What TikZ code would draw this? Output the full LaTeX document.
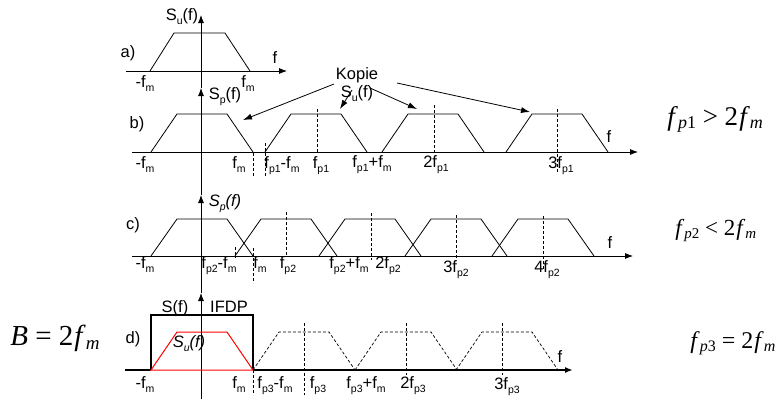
\documentclass[tikz,border=0pt]{standalone}
\usepackage{fontspec}
\setmainfont{Liberation Sans}
\newfontfamily\tnr{Liberation Serif}
\usetikzlibrary{arrows.meta}
\newcommand\sbs[1]{\raisebox{-0.28em}{\fontsize{10.5}{11}\selectfont #1}}
\newcommand\fs[1]{f\sbs{#1}}
\newcommand\trp[4]{\draw[#4] ({#1-51},#2) -- ({#1-25},#3) -- ({#1+25},#3) -- ({#1+51},#2);}
\begin{document}
\begin{tikzpicture}[x=1pt,y=-1pt,line width=0.8pt,
  lbl/.style={anchor=base,inner sep=0pt,font=\fontsize{16.5}{18}\selectfont},
  axisarrow/.style={-{Latex[length=8pt,width=6pt]}},
  kopiearrow/.style={-{Latex[length=9pt,width=6pt]}},
  dsh/.style={dash pattern=on 3pt off 2pt,line width=0.7pt},
  formula/.style={anchor=base west,inner sep=0pt}]
\useasboundingbox (0,0) rectangle (775,399);
% vertical axis
\coordinate (v0) at (201,399);
\coordinate (v1) at (201,293);
\coordinate (v2) at (201,195);
\coordinate (v3) at (201,88);
\coordinate (v4) at (201,15);
\draw[axisarrow] (v0) -- (v1);
\draw[axisarrow] (v1) -- (v2);
\draw[axisarrow] (v2) -- (v3);
\draw[axisarrow] (v3) -- (v4);
% ---------- a)
\coordinate (a0) at (126,71); \coordinate (a1) at (287,71);
\draw[axisarrow] (a0) -- (a1);
\draw (150,71) -- (174,33) -- (225,33) -- (250,71);
\node[lbl] (aS) at (182,20) {S\sbs{u}(f)};
\node[lbl] (aa) at (128,57) {a)};
\node[lbl] (af) at (275,63) {f};
\node[lbl] (afm1) at (145,87) {-\fs{m}};
\node[lbl] (afm2) at (248,87) {\fs{m}};
% ---------- b)
\coordinate (b0) at (132,152); \coordinate (b1) at (638,152);
\draw[axisarrow] (b0) -- (b1);
\trp{202}{152}{114}{}
\trp{316}{152}{114}{}
\trp{433}{152}{114}{}
\trp{557}{152}{114}{}
\draw[dsh] (253,153) -- (253,177);
\draw[dsh] (265,143) -- (265,177);
\draw[dsh] (317,109) -- (317,153);
\draw[dsh] (434,105) -- (434,153);
\draw[dsh] (557,109) -- (557,173);
\node[lbl] (bS) at (225,99) {S\sbs{p}(f)};
\node[lbl] (bb) at (137,128) {b)};
\node[lbl] (bf) at (609,142) {f};
\node[lbl] (bl1) at (145,168) {-\fs{m}};
\node[lbl] (bl2) at (239,168) {\fs{m}};
\node[lbl] (bl3) at (282,168) {\fs{p1}-\fs{m}};
\node[lbl] (bl4) at (321,168) {\fs{p1}};
\node[lbl] (bl5) at (372,167) {\fs{p1}+\fs{m}};
\node[lbl] (bl6) at (436,167) {2\fs{p1}};
\node[lbl] (bl7) at (561,168) {3\fs{p1}};
\node[lbl] (kop) at (357,79) {Kopie};
\node[lbl] (kopS) at (357,97) {S\sbs{u}(f)};
\coordinate (k1s) at (334,84); \coordinate (k1e) at (243,120);
\coordinate (k2s) at (352,90); \coordinate (k2e) at (340,109);
\coordinate (k3s) at (370,88); \coordinate (k3e) at (417,109);
\coordinate (k4s) at (397,83); \coordinate (k4e) at (530,112);
\draw[kopiearrow] (k1s) -- (k1e);
\draw[kopiearrow] (k2s) -- (k2e);
\draw[kopiearrow] (k3s) -- (k3e);
\draw[kopiearrow] (k4s) -- (k4e);
% ---------- c)
\coordinate (c0) at (132,256); \coordinate (c1) at (633,256);
\draw[axisarrow] (c0) -- (c1);
\trp{202}{256}{219}{}
\trp{286}{256}{219}{}
\trp{370}{256}{219}{}
\trp{456}{256}{219}{}
\trp{543}{256}{219}{}
\draw[dsh] (235,247) -- (235,258);
\draw[dsh] (253,248) -- (253,283);
\draw[dsh] (286,212) -- (286,256);
\draw[dsh] (371,213) -- (371,260);
\draw[dsh] (456,215) -- (456,258);
\draw[dsh] (543,216) -- (543,270);
\node[lbl] (cS) at (225,206) {\itshape S\sbs{p}(f)};
\node[lbl] (cc) at (133,229) {c)};
\node[lbl] (cf) at (610,248) {f};
\node[lbl] (cl1) at (145,268) {-\fs{m}};
\node[lbl] (cl2) at (219,268) {\fs{p2}-\fs{m}};
\node[lbl] (cl3) at (260,268) {\fs{m}};
\node[lbl] (cl4) at (288,268) {\fs{p2}};
\node[lbl] (cl5) at (349,268) {\fs{p2}+\fs{m}};
\node[lbl] (cl6) at (388,268) {2\fs{p2}};
\node[lbl] (cl7) at (456,272) {3\fs{p2}};
\node[lbl] (cl8) at (547,272) {4\fs{p2}};
% ---------- d)
\coordinate (d0) at (125,370); \coordinate (d0b) at (151,370);
\coordinate (d1b) at (253,370); \coordinate (d1) at (573,370);
\draw[line width=1.6pt] (d0) -- (d0b);
\draw[line width=1.6pt,axisarrow] (d1b) -- (d1);
\draw[line width=1.6pt] (151,370) -- (151,315) -- (253,315) -- (253,370);
\draw[red,line width=1pt] (151,370) -- (177,332) -- (227,332) -- (253,370) -- cycle;
\trp{304}{370}{332}{dsh}
\trp{406}{370}{332}{dsh}
\trp{507}{370}{332}{dsh}
\draw[dsh] (253,370) -- (253,395);
\draw[dsh] (304,323) -- (304,395);
\draw[dsh] (406,323) -- (406,375);
\draw[dsh] (502,323) -- (502,375);
\node[lbl] (dd) at (133,343) {d)};
\node[lbl] (dS) at (175,312) {S(f)};
\node[lbl] (dI) at (229,312) {IFDP};
\node[lbl] (dSu) at (189,347) {\itshape S\sbs{u}(f)};
\node[lbl] (df) at (560,362) {f};
\node[lbl] (dl1) at (145,388) {-\fs{m}};
\node[lbl] (dl2) at (239,388) {\fs{m}};
\node[lbl] (dl3) at (275,388) {\fs{p3}-\fs{m}};
\node[lbl] (dl4) at (318,388) {\fs{p3}};
\node[lbl] (dl5) at (366,388) {\fs{p3}+\fs{m}};
\node[lbl] (dl6) at (413,388) {2\fs{p3}};
\node[lbl] (dl7) at (507,389) {3\fs{p3}};
% ---------- formulas
\node[formula] (F1) at (667,125) {\fontsize{27}{30}\selectfont\tnr\textit{f}\raisebox{-0.3ex}{\fontsize{18}{20}\selectfont\textit{p}1} {>} 2\kern1pt\textit{f}\raisebox{-0.3ex}{\fontsize{18}{20}\selectfont\textit{m}}};
\node[formula] (F2) at (675,235) {\fontsize{23}{26}\selectfont\tnr\textit{f}\raisebox{-0.3ex}{\fontsize{15}{17}\selectfont\textit{p}2} {<} 2\kern1pt\textit{f}\raisebox{-0.3ex}{\fontsize{15}{17}\selectfont\textit{m}}};
\node[formula] (F3) at (690,348) {\fontsize{24}{27}\selectfont\tnr\textit{f}\raisebox{-0.3ex}{\fontsize{16}{18}\selectfont\textit{p}3} {=} 2\kern1pt\textit{f}\raisebox{-0.3ex}{\fontsize{16}{18}\selectfont\textit{m}}};
\node[formula] (FB) at (10,345) {\fontsize{29}{32}\selectfont\tnr\textit{B} = 2\kern1pt\textit{f}\raisebox{-0.3ex}{\fontsize{19}{21}\selectfont\textit{m}}};
\end{tikzpicture}
\end{document}
